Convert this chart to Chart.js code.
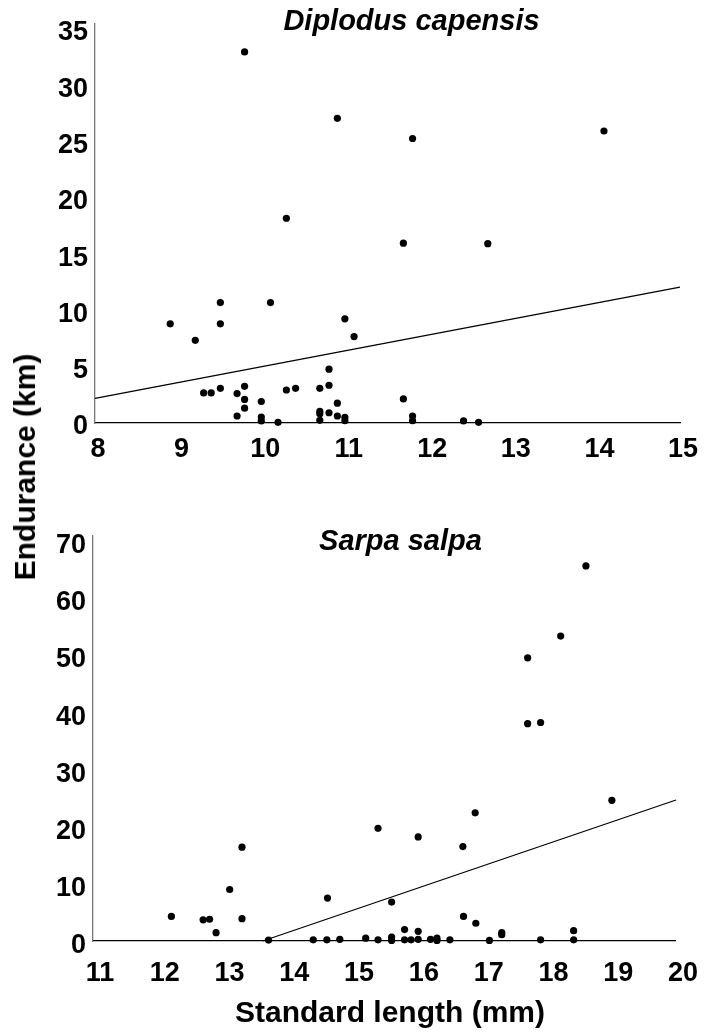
<!DOCTYPE html>
<html>
<head>
<meta charset="utf-8">
<script src="https://cdn.jsdelivr.net/npm/chart.js@4/dist/chart.umd.min.js"></script>
<style>
  html, body { margin: 0; padding: 0; background: #fff; }
  body { width: 707px; height: 1036px; position: relative; overflow: hidden; font-family: 'Liberation Sans', Arial, sans-serif; }
  .box { position: absolute; left: 0; width: 707px; }
  #ytitle { position: absolute; left: 25px; top: 467px; transform: translate(-50%, -50%) rotate(-90deg); font-weight: bold; font-size: 30px; white-space: nowrap; color: #000; line-height: 1; }
  #xtitle { position: absolute; left: 390px; top: 1012px; transform: translate(-50%, -50%); font-weight: bold; font-size: 30px; white-space: nowrap; color: #000; line-height: 1; }
</style>
</head>
<body>
<div class="box" style="top:0;height:470px"><canvas id="c1"></canvas></div>
<div class="box" style="top:470px;height:566px"><canvas id="c2"></canvas></div>
<div id="ytitle">Endurance (km)</div>
<div id="xtitle">Standard length (mm)</div>
<script>
// ---- Diplodus capensis ----
const dcTitle = 'Diplodus capensis';
const dcX = [9.79, 10.90, 10.29, 11.80, 14.09, 11.69, 12.70, 11.69, 11.80, 11.80, 12.41, 12.59,
             9.50, 10.10, 8.90, 9.50, 9.20, 10.99, 11.10, 10.80, 9.30, 9.39, 9.50, 9.79, 9.70,
             9.79, 9.79, 9.70, 9.99, 9.99, 9.99, 10.19, 10.29, 10.40, 10.69, 10.80, 10.69, 10.69,
             10.69, 10.80, 10.90, 10.90, 10.99, 10.99];
const dcY = [32.95, 27.05, 18.18, 25.26, 25.93, 15.97, 15.92, 2.14, 0.62, 0.20, 0.18, 0.06,
             10.69, 10.69, 8.81, 8.81, 7.34, 9.25, 7.67, 4.78, 2.67, 2.67, 3.08, 3.26, 2.61,
             2.09, 1.32, 0.62, 1.91, 0.53, 0.18, 0.06, 2.93, 3.08, 3.08, 3.35, 1.03, 0.82,
             0.24, 0.91, 1.76, 0.62, 0.50, 0.20];
const dcLineX = [8, 15];
const dcLineY = [2.18, 12.07];
const dcXTicks = [8, 9, 10, 11, 12, 13, 14, 15];
const dcYTicks = [0, 5, 10, 15, 20, 25, 30, 35];

// ---- Sarpa salpa ----
const ssTitle = 'Sarpa salpa';
const ssX = [18.61, 18.22, 17.71, 17.71, 17.91, 15.40, 13.30, 13.11, 14.62, 15.61, 16.90, 16.02,
             16.71, 19.01, 12.21, 12.70, 12.80, 12.90, 13.30, 13.71, 14.40, 14.61, 14.81, 15.21,
             15.40, 15.61, 15.61, 15.81, 15.81, 15.91, 16.02, 16.02, 16.21, 16.31, 16.31, 16.51,
             16.72, 16.91, 17.12, 17.31, 17.31, 17.91, 18.42, 18.42];
const ssY = [65.56, 53.3, 49.5, 38.0, 38.2, 19.7, 16.4, 9.0, 7.5, 6.8, 22.4, 18.2,
             16.5, 24.6, 4.3, 3.7, 3.8, 1.45, 3.9, 0.17, 0.2, 0.2, 0.3, 0.5,
             0.2, 0.7, 0.1, 2.0, 0.2, 0.2, 1.7, 0.3, 0.3, 0.5, 0.1, 0.2,
             4.3, 3.1, 0.1, 1.45, 1.1, 0.2, 1.8, 0.2];
const ssLineX = [13.62, 20];
const ssLineY = [0, 24.65];
const ssXTicks = [11, 12, 13, 14, 15, 16, 17, 18, 19, 20];
const ssYTicks = [0, 10, 20, 30, 40, 50, 60, 70];

const FONT = "'Liberation Sans', Arial, sans-serif";

const inTitle = {
  id: 'inTitle',
  afterDraw(chart, args, opts) {
    const ctx = chart.ctx, a = chart.chartArea;
    ctx.save();
    ctx.font = 'italic bold ' + opts.size + 'px ' + FONT;
    ctx.fillStyle = '#000';
    ctx.textAlign = 'center';
    ctx.textBaseline = 'middle';
    ctx.fillText(opts.text, (a.left + a.right) / 2 + opts.dx, opts.y);
    ctx.restore();
  }
};

function zip(xs, ys) { return xs.map((x, i) => ({ x: x, y: ys[i] })); }

function makeChart(id, cfg) {
  return new Chart(document.getElementById(id), {
    type: 'scatter',
    data: {
      datasets: [
        { data: zip(cfg.px, cfg.py), pointRadius: 3.6, pointHoverRadius: 3.6, pointBackgroundColor: '#000', pointBorderWidth: 0, showLine: false, clip: false, order: 1 },
        { data: zip(cfg.lx, cfg.ly), showLine: true, borderColor: '#000', borderWidth: 1.3, pointRadius: 0, pointHoverRadius: 0, fill: false, clip: false, order: 2 }
      ]
    },
    options: {
      responsive: true,
      maintainAspectRatio: false,
      devicePixelRatio: 1,
      animation: false,
      events: [],
      layout: { padding: cfg.padding },
      plugins: {
        legend: { display: false },
        tooltip: { enabled: false },
        title: { display: false },
        inTitle: { text: cfg.title, dx: cfg.titleDx, y: cfg.titleY, size: 29 }
      },
      scales: {
        x: {
          type: 'linear', min: cfg.xTicks[0], max: cfg.xTicks[cfg.xTicks.length - 1],
          grid: { display: false, drawTicks: false },
          border: { display: true, color: '#000', width: 1.3 },
          ticks: { color: '#000', font: { family: FONT, size: 27, weight: 'bold' }, padding: cfg.xPad, labelOffset: cfg.xLabelOffset, maxRotation: 0, autoSkip: false },
          afterBuildTicks: s => { s.ticks = cfg.xTicks.map(v => ({ value: v })); },
          afterFit: s => { s.height = cfg.xHeight; }
        },
        y: {
          type: 'linear', min: 0, max: cfg.yMax,
          grid: { display: false, drawTicks: false },
          border: { display: true, color: '#777', width: 1.3 },
          ticks: { color: '#000', font: { family: FONT, size: 27, weight: 'bold' }, padding: 7, labelOffset: cfg.yLabelOffset, autoSkip: false },
          afterBuildTicks: s => { s.ticks = cfg.yTicks.map(v => ({ value: v })); },
          afterFit: s => { s.width = cfg.yWidth; }
        }
      }
    },
    plugins: [inTitle]
  });
}

makeChart('c1', {
  px: dcX, py: dcY, lx: dcLineX, ly: dcLineY, xTicks: dcXTicks, yTicks: dcYTicks,
  title: dcTitle, titleDx: 24, titleY: 22, yMax: 35.5,
  padding: { left: 0, top: 20, right: 27, bottom: 0 },
  yWidth: 95, xHeight: 47, xPad: 10, xLabelOffset: 3, yLabelOffset: 4
});

makeChart('c2', {
  px: ssX, py: ssY, lx: ssLineX, ly: ssLineY, xTicks: ssXTicks, yTicks: ssYTicks,
  title: ssTitle, titleDx: 16, titleY: 72, yMax: 70.8,
  padding: { left: 0, top: 66, right: 29, bottom: 0 },
  yWidth: 93, xHeight: 95, xPad: 16, xLabelOffset: 7, yLabelOffset: 5
});
</script>
</body>
</html>
